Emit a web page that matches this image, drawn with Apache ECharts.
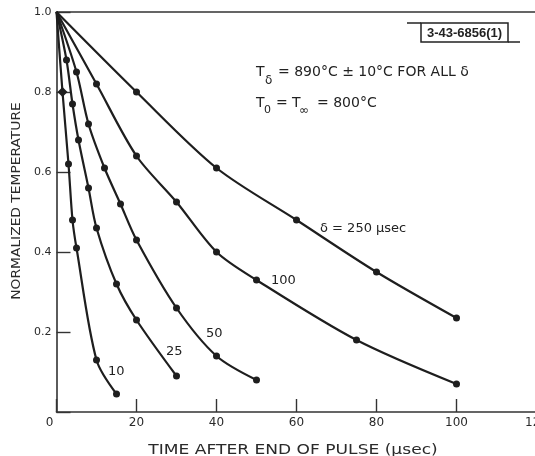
<!DOCTYPE html>
<html>
<head>
<meta charset="utf-8">
<script src="https://cdn.jsdelivr.net/npm/echarts@6/dist/echarts.min.js"></script>
<style>
html,body{margin:0;padding:0;background:#fff;}
#chart{width:535px;height:456px;}
</style>
</head>
<body>
<div id="chart"></div>
<script>
// ---- data (time in µsec, normalized temperature) ----
const xTicks = [0, 20, 40, 60, 80, 100, 120];
const yTicks = [0.2, 0.4, 0.6, 0.8, 1.0];

const time250 = [0, 20, 40, 60, 80, 100];
const temp250 = [1.0, 0.80, 0.61, 0.48, 0.35, 0.235];

const time100 = [0, 10, 20, 30, 40, 50, 75, 100];
const temp100 = [1.0, 0.82, 0.64, 0.525, 0.40, 0.33, 0.18, 0.07];

const time50 = [0, 5, 8, 12, 16, 20, 30, 40, 50];
const temp50 = [1.0, 0.85, 0.72, 0.61, 0.52, 0.43, 0.26, 0.14, 0.08];

const time25 = [0, 2.5, 4, 5.5, 8, 10, 15, 20, 30];
const temp25 = [1.0, 0.88, 0.77, 0.68, 0.56, 0.46, 0.32, 0.23, 0.09];

const time10 = [0, 1.5, 3, 4, 5, 10, 15];
const temp10 = [1.0, 0.80, 0.62, 0.48, 0.41, 0.13, 0.045];

const curveNames = ['250', '100', '50', '25', '10'];

// ---- build ----
const INK = '#1e1e1e';
const FONT = '"DejaVu Sans", "Liberation Sans", sans-serif';

function pts(t, v, diamondIdx) {
  return t.map((x, i) => {
    const item = { value: [x, v[i]] };
    if (i === 0) item.symbolSize = 0;
    if (diamondIdx === i) { item.symbol = 'diamond'; item.symbolSize = 10; }
    return item;
  });
}
function line(name, t, v, d) {
  return {
    name: name, type: 'line', smooth: 0.3,
    data: pts(t, v, d), symbol: 'circle', symbolSize: 7,
    lineStyle: { color: INK, width: 2.2 },
    itemStyle: { color: INK },
    z: 3, animation: false
  };
}

const chart = echarts.init(document.getElementById('chart'), null, { renderer: 'canvas' });

const option = {
  backgroundColor: '#ffffff',
  animation: false,
  grid: { left: 56.5, top: 12, width: 480, height: 400, containLabel: false, outerBoundsMode: 'none' },
  xAxis: [{
    type: 'value', min: 0, max: 120, interval: 20, position: 'bottom',
    axisLine: { show: true, onZero: false, lineStyle: { color: '#333', width: 1.6 } },
    axisTick: { show: true, inside: true, length: 13, lineStyle: { color: '#333', width: 1.4 } },
    splitLine: { show: false },
    axisLabel: {
      color: '#2a2a2a', fontFamily: FONT, fontSize: 12, margin: 5, hideOverlap: false,
      formatter: function (v) { return v === 0 ? '{o|0}' : String(v); },
      rich: { o: { padding: [0, 14, 0, 0], fontSize: 12, fontFamily: FONT, color: '#2a2a2a' } }
    }
  }, {
    type: 'value', min: 0, max: 120, position: 'top',
    axisLine: { show: true, onZero: false, lineStyle: { color: '#333', width: 1.6 } },
    axisTick: { show: false }, axisLabel: { show: false }, splitLine: { show: false }
  }],
  yAxis: {
    type: 'value', min: 0, max: 1.0, interval: 0.2,
    axisLine: { show: true, lineStyle: { color: '#333', width: 1.6 } },
    axisTick: { show: true, inside: true, length: 14, lineStyle: { color: '#333', width: 1.4 } },
    splitLine: { show: false },
    axisLabel: {
      color: '#2a2a2a', fontFamily: FONT, fontSize: 11, margin: 5,
      formatter: function (v) { return v === 0 ? '' : v.toFixed(1); }
    }
  },
  series: [
    line(curveNames[0], time250, temp250),
    line(curveNames[1], time100, temp100),
    line(curveNames[2], time50, temp50),
    line(curveNames[3], time25, temp25),
    line(curveNames[4], time10, temp10, 1)
  ],
  graphic: [
    // axis titles
    { type: 'text', x: 293, y: 450, scaleX: 1.22, z: 10,
      style: { text: 'TIME AFTER END OF PULSE (μsec)', font: '14px ' + FONT, fill: '#2a2a2a',
               align: 'center', verticalAlign: 'middle', textAlign: 'center', textVerticalAlign: 'middle' } },
    { type: 'text', x: 17, y: 201, rotation: Math.PI / 2, scaleX: 1.15, z: 10,
      style: { text: 'NORMALIZED TEMPERATURE', font: '12px ' + FONT, fill: '#2a2a2a',
               align: 'center', verticalAlign: 'middle', textAlign: 'center', textVerticalAlign: 'middle' } },
    // figure number box
    { type: 'rect', shape: { x: 421, y: 23, width: 87, height: 19 }, z: 10,
      style: { fill: 'none', stroke: '#222', lineWidth: 1.5 } },
    { type: 'line', shape: { x1: 407, y1: 23, x2: 421, y2: 23 }, z: 10, style: { stroke: '#222', lineWidth: 1.5 } },
    { type: 'line', shape: { x1: 508, y1: 42, x2: 520, y2: 42 }, z: 10, style: { stroke: '#222', lineWidth: 1.5 } },
    { type: 'text', x: 464.5, y: 33, z: 10,
      style: { text: '3-43-6856(1)', font: 'bold 13px "Liberation Sans Narrow", "Liberation Sans", sans-serif', fill: '#222',
               align: 'center', verticalAlign: 'middle', textAlign: 'center', textVerticalAlign: 'middle' } },
    // conditions line 1
    { type: 'text', x: 256, y: 72, z: 10,
      style: { text: 'T', font: '14px ' + FONT, fill: '#222', align: 'left', verticalAlign: 'middle', textAlign: 'left', textVerticalAlign: 'middle' } },
    { type: 'text', x: 265, y: 81, z: 10,
      style: { text: 'δ', font: '12px ' + FONT, fill: '#222', align: 'left', verticalAlign: 'middle', textAlign: 'left', textVerticalAlign: 'middle' } },
    { type: 'text', x: 278, y: 72, z: 10,
      style: { text: '= 890°C ± 10°C FOR ALL δ', font: '14px ' + FONT, fill: '#222', align: 'left', verticalAlign: 'middle', textAlign: 'left', textVerticalAlign: 'middle' } },
    // conditions line 2
    { type: 'text', x: 256, y: 103, z: 10,
      style: { text: 'T', font: '14px ' + FONT, fill: '#222', align: 'left', verticalAlign: 'middle', textAlign: 'left', textVerticalAlign: 'middle' } },
    { type: 'text', x: 264, y: 110, z: 10,
      style: { text: '0', font: '11px ' + FONT, fill: '#222', align: 'left', verticalAlign: 'middle', textAlign: 'left', textVerticalAlign: 'middle' } },
    { type: 'text', x: 276, y: 103, z: 10,
      style: { text: '=', font: '14px ' + FONT, fill: '#222', align: 'left', verticalAlign: 'middle', textAlign: 'left', textVerticalAlign: 'middle' } },
    { type: 'text', x: 292, y: 103, z: 10,
      style: { text: 'T', font: '14px ' + FONT, fill: '#222', align: 'left', verticalAlign: 'middle', textAlign: 'left', textVerticalAlign: 'middle' } },
    { type: 'text', x: 299, y: 111, z: 10,
      style: { text: '∞', font: '12px ' + FONT, fill: '#222', align: 'left', verticalAlign: 'middle', textAlign: 'left', textVerticalAlign: 'middle' } },
    { type: 'text', x: 317, y: 103, z: 10,
      style: { text: '= 800°C', font: '14px ' + FONT, fill: '#222', align: 'left', verticalAlign: 'middle', textAlign: 'left', textVerticalAlign: 'middle' } },
    // curve labels
    { type: 'text', x: 320, y: 229, z: 10,
      style: { text: 'δ = 250 μsec', font: '13px ' + FONT, fill: '#222', align: 'left', verticalAlign: 'middle', textAlign: 'left', textVerticalAlign: 'middle' } },
    { type: 'text', x: 271, y: 281, z: 10,
      style: { text: '100', font: '13px ' + FONT, fill: '#222', align: 'left', verticalAlign: 'middle', textAlign: 'left', textVerticalAlign: 'middle' } },
    { type: 'text', x: 206, y: 334, z: 10,
      style: { text: '50', font: '13px ' + FONT, fill: '#222', align: 'left', verticalAlign: 'middle', textAlign: 'left', textVerticalAlign: 'middle' } },
    { type: 'text', x: 166, y: 352, z: 10,
      style: { text: '25', font: '13px ' + FONT, fill: '#222', align: 'left', verticalAlign: 'middle', textAlign: 'left', textVerticalAlign: 'middle' } },
    { type: 'text', x: 108, y: 372, z: 10,
      style: { text: '10', font: '13px ' + FONT, fill: '#222', align: 'left', verticalAlign: 'middle', textAlign: 'left', textVerticalAlign: 'middle' } }
  ]
};
chart.setOption(option);
</script>
</body>
</html>
